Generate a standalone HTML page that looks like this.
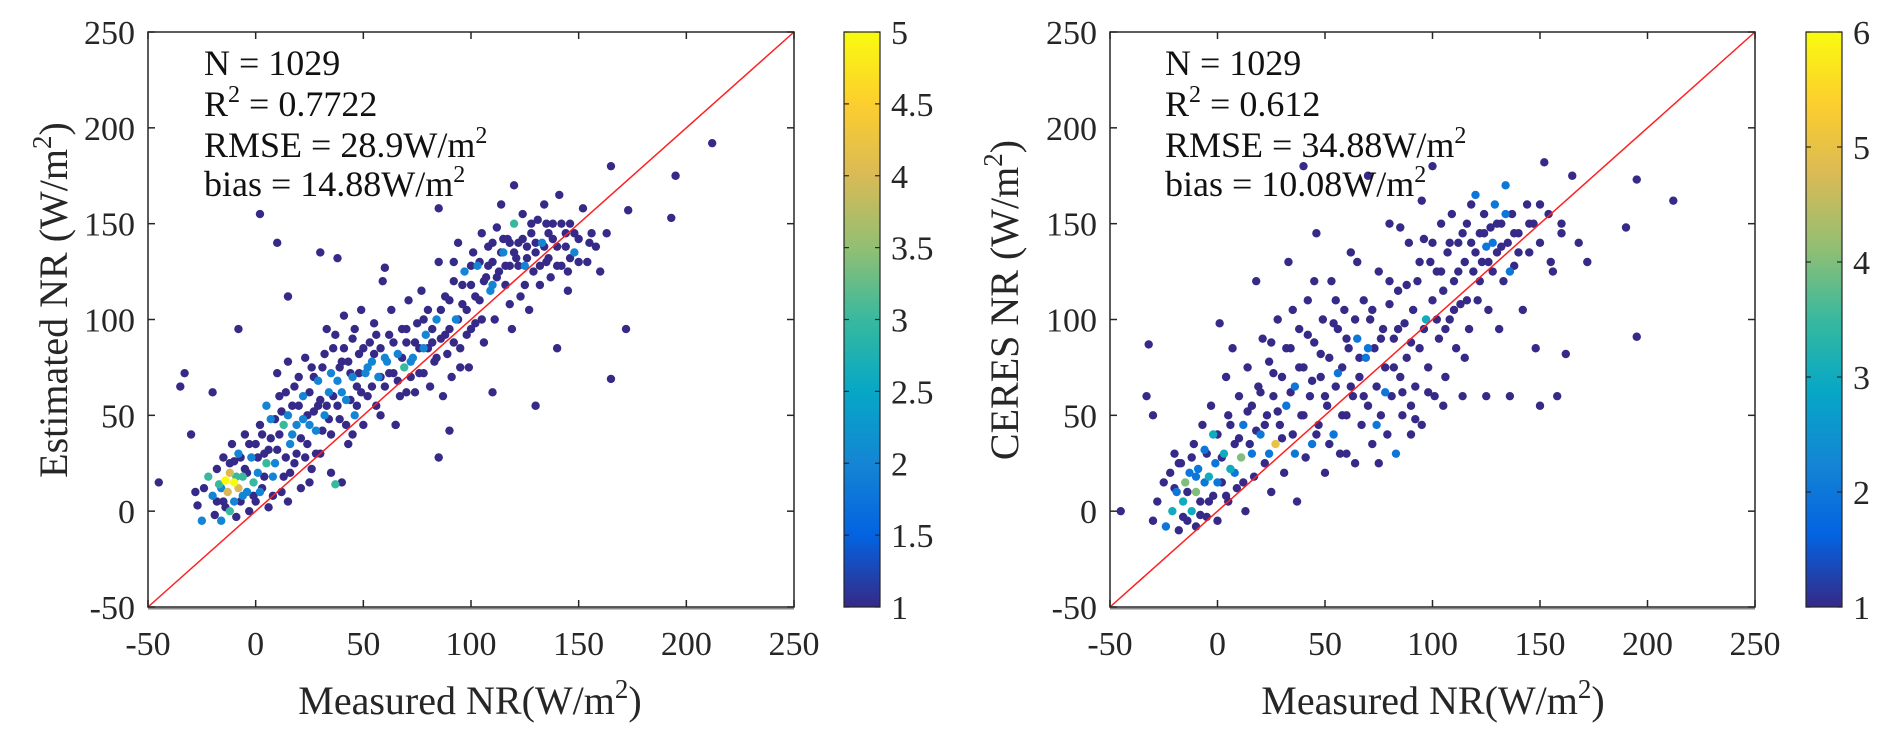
<!DOCTYPE html>
<html><head><meta charset="utf-8"><style>
html,body{margin:0;padding:0;background:#fff;}
svg{display:block;font-family:"Liberation Serif",serif;}
</style></head><body>
<svg id="fig" width="1892" height="747" viewBox="0 0 1892 747" font-family="Liberation Serif, serif">
<defs>
<linearGradient id="parula" x1="0" y1="1" x2="0" y2="0">
<stop offset="0" stop-color="#352A87"/><stop offset="0.125" stop-color="#0363E1"/><stop offset="0.25" stop-color="#1485D4"/><stop offset="0.375" stop-color="#06A7C6"/><stop offset="0.5" stop-color="#38B99E"/><stop offset="0.625" stop-color="#92BF73"/><stop offset="0.75" stop-color="#D9BA56"/><stop offset="0.875" stop-color="#FCCE2E"/><stop offset="1" stop-color="#F9FB0E"/>
</linearGradient>
</defs>
</svg>
<script>
// ---- data ----
const xTicks=[-50,0,50,100,150,200,250];
const yTicks=[-50,0,50,100,150,200,250];
const cbTicksL=[1,1.5,2,2.5,3,3.5,4,4.5,5];
const cbTicksR=[1,2,3,4,5,6];
const leftX=[-45,-35,-33,-30,-28,-27,-25,-24,-22,-20,-20,-19,-18,-17,-16,-15,-15,-14,-13,-12,-12,-11,-10,-10,-9,-8,-8,-7,-6,-5,-5,-4,-3,-2,-1,0,0,1,2,3,4,5,5,6,7,8,9,10,10,11,12,13,14,15,15,16,17,18,19,20,21,22,23,24,25,26,27,28,29,30,31,32,33,34,35,36,37,38,39,40,41,42,43,44,45,46,47,48,49,50,51,52,53,54,55,56,57,58,59,60,61,62,63,64,65,66,67,68,69,70,71,72,73,74,75,76,77,78,79,80,81,82,83,84,85,86,87,88,89,90,91,92,93,94,95,96,97,98,99,100,101,102,103,104,105,106,107,108,109,110,111,112,113,114,115,116,117,118,119,120,121,122,123,124,125,126,127,128,129,130,131,132,133,134,135,136,137,138,140,141,142,144,145,146,148,150,152,154,156,158,160,163,165,165,172,173,193,195,212,10,2,30,38,15,-8,60,85,120,130,140,110,85,40,65,90];
const leftY=[15,65,72,40,10,3,-5,12,18,8,62,-2,22,14,-5,5,28,16,10,20,0,35,15,26,-3,12,30,5,18,40,22,10,0,28,15,35,5,20,45,12,30,55,25,2,38,18,48,32,72,60,10,45,28,50,78,20,40,65,30,55,12,48,80,35,62,22,70,42,55,30,75,50,95,62,40,85,14,68,48,78,102,58,35,72,90,50,65,82,105,45,72,60,88,78,98,55,70,85,120,65,78,92,105,72,45,82,60,95,75,88,110,70,80,62,98,85,115,72,92,105,65,88,78,100,130,90,60,112,82,95,70,120,100,140,85,108,125,92,75,118,135,98,128,110,145,88,122,138,115,130,100,148,125,160,135,118,142,128,95,150,132,140,112,155,128,138,105,145,125,135,152,118,140,160,130,145,122,150,138,165,128,145,115,150,135,142,158,130,145,138,125,145,69,180,95,157,153,175,192,140,155,135,132,112,95,127,158,170,55,85,62,28,15,45,42];
const leftC=[1,1,1,1,1,1,2,1,3,2,1,1,1,3,2,1,1,5,4,4,3,1,5,1,1,4,2,1,3,1,1,2,1,2,3,1,1,2,1,1,1,2,3,1,1,2,1,1,1,1,1,3,1,2,1,1,2,1,1,1,1,2,1,1,1,1,1,2,1,1,1,2,1,2,1,1,3,2,1,1,1,2,1,1,1,2,1,1,1,1,2,1,1,2,1,1,2,1,1,1,2,1,1,1,1,2,1,1,3,1,1,1,2,1,1,1,1,1,2,1,1,1,1,2,1,1,1,1,1,1,1,1,2,1,1,1,2,1,1,1,1,1,2,1,1,1,1,1,2,1,1,1,1,1,2,1,1,1,1,3,1,1,1,1,2,1,1,1,1,1,1,1,2,1,1,1,1,1,1,1,1,1,1,1,2,1,1,1,1,1,1,1,1,1,1,1,1,1,1,1,1,1,1,1,1,1,1,1,1,1,1,1,1,1,1];
const leftX2=[-18,-16,-14,-12,-10,-9,-7,-6,-4,-3,-1,1,2,3,4,6,7,8,9,11,12,13,14,16,17,18,19,20,21,22,23,24,25,26,27,28,29,30,31,32,33,34,35,36,37,38,39,40,41,42,43,44,45,46,47,48,49,50,52,54,55,56,58,60,62,64,66,68,70,72,74,76,78,80,82,84,86,88,90,92,94,96,98,100,102,104,106,108,110,112,114,116,118,120,122,124,126,128,130,132,134,136,138,140,142,144,146,148,150,155,110,115,125,135,145,100,95,105,118,92,78,70,58,45,35,25,15];
const leftY2=[5,12,2,25,5,18,28,8,20,35,8,28,10,40,18,32,48,8,25,40,52,18,62,35,55,25,45,70,38,60,28,50,45,75,52,30,68,58,42,82,55,48,72,60,92,55,75,62,85,45,78,58,70,95,55,72,62,85,75,65,82,92,70,80,72,88,68,80,95,78,88,72,100,85,95,80,105,92,110,88,100,118,105,128,112,130,120,128,140,122,135,128,140,135,128,142,132,150,140,128,138,132,142,128,150,138,132,145,130,140,118,142,118,150,125,95,75,100,108,130,85,62,50,40,20,15,5];
const leftC2=[1,2,1,1,2,3,1,2,1,1,1,1,2,1,1,1,2,1,2,1,1,1,1,2,1,1,2,1,1,2,1,1,2,1,1,1,2,1,1,1,1,1,2,1,1,1,1,2,1,1,1,1,2,1,1,1,1,1,2,1,1,1,1,2,1,1,1,1,1,2,1,1,1,1,1,1,1,1,1,1,1,1,1,1,1,1,1,1,1,1,1,1,1,1,1,1,1,1,1,1,1,1,1,1,1,1,1,1,1,1,2,1,1,1,1,1,1,1,1,1,2,1,1,1,1,1,1];
const rightX=[-45,-32,-33,-30,-30,-28,-25,-24,-22,-21,-20,-19,-18,-17,-16,-15,-14,-13,-12,-11,-10,-10,-9,-8,-7,-6,-5,-5,-4,-3,-2,-1,0,0,1,2,3,4,5,5,6,7,8,9,10,11,12,13,14,15,16,17,18,19,20,21,22,23,24,25,26,27,28,29,30,31,32,33,34,35,36,37,38,39,40,41,42,43,44,45,46,47,48,49,50,51,52,53,54,55,56,57,58,59,60,61,62,63,64,65,66,67,68,69,70,71,72,73,74,75,76,77,78,79,80,81,82,83,84,85,86,87,88,89,90,91,92,93,94,95,96,97,98,99,100,101,102,103,104,105,106,107,108,109,110,111,112,113,114,115,116,117,118,119,120,121,122,123,124,125,126,127,128,129,130,131,132,133,134,135,136,137,138,140,142,144,145,147,148,150,152,154,156,158,160,162,165,168,172,190,195,195,212,100,70,40,150,125,80];
const rightY=[0,87,60,50,-5,5,15,-8,20,0,30,10,-10,25,5,15,-5,20,0,35,10,-8,22,5,45,15,-3,30,18,55,8,25,-5,40,98,15,30,70,5,50,22,85,35,12,60,28,45,0,75,35,55,18,120,65,40,90,25,50,78,10,60,35,100,45,70,20,55,130,85,40,65,5,95,50,75,28,110,60,35,88,145,45,70,100,20,55,80,120,40,65,95,30,75,105,50,85,135,60,25,90,70,45,110,80,55,100,35,85,65,125,50,95,75,40,108,60,90,30,115,70,50,98,80,140,55,105,65,120,85,45,142,100,75,130,110,60,125,90,150,115,70,135,100,155,120,85,140,108,60,130,150,95,140,125,165,110,145,130,155,138,105,148,125,160,135,95,150,120,170,140,60,155,128,145,105,160,135,150,85,140,182,155,125,60,145,82,175,140,130,148,173,91,162,180,175,180,55,60,150];
const rightC=[1,1,1,1,1,1,1,2,1,3,1,2,1,1,3,4,1,2,3,1,4,1,2,1,1,2,1,1,3,1,1,2,1,1,1,1,3,1,1,1,3,1,1,1,1,4,2,1,1,1,1,1,1,1,2,1,1,1,1,1,1,5,1,1,1,1,2,1,1,1,2,1,1,1,1,1,1,1,2,1,1,1,1,1,1,1,1,1,2,1,1,1,1,1,1,1,1,1,1,2,1,1,1,2,1,1,1,1,1,1,1,1,1,1,1,1,1,2,1,1,1,1,1,1,1,1,1,1,1,1,1,3,1,1,1,1,1,1,1,1,1,1,1,1,1,1,1,1,1,1,1,1,1,1,2,1,1,1,1,2,1,1,1,2,1,1,1,1,2,1,1,1,1,1,1,1,1,1,1,1,1,1,1,1,1,1,1,1,1,1,1,1,1,1,1,1,1,1,1,1,1,1,1];
const rightX2=[-20,-18,-16,-14,-12,-10,-8,-6,-4,-2,0,2,4,6,8,10,12,14,16,18,20,22,24,26,28,30,32,34,36,38,40,42,44,46,48,50,52,54,56,58,60,62,64,66,68,70,72,74,76,78,80,82,84,86,88,90,92,94,96,98,100,102,104,106,108,110,112,114,116,118,120,122,124,126,128,130,132,134,136,138,140,145,150,155,160,60,75,90,105,115,45,55,25,35,65,85,95];
const rightY2=[12,25,-3,10,28,18,-2,32,5,40,15,28,8,45,20,38,15,52,30,42,62,45,30,72,52,38,85,62,30,75,50,92,68,40,82,60,35,98,72,50,90,65,100,80,60,85,105,45,90,62,120,75,95,62,118,88,48,130,95,62,140,100,125,95,140,105,125,145,110,160,135,120,145,130,140,150,138,155,125,145,135,150,160,130,150,30,25,40,55,80,120,110,88,105,130,148,162];
const rightC2=[1,2,1,2,1,3,2,1,1,1,2,1,1,1,2,1,1,1,2,1,1,1,1,1,2,1,1,1,1,1,1,1,1,1,2,1,1,1,1,1,1,2,1,2,1,2,1,1,1,1,1,1,1,1,1,1,1,1,1,1,1,1,1,1,1,1,1,1,1,1,2,1,1,2,2,1,1,1,1,1,1,1,1,1,1,1,1,1,1,1,1,1,1,1,1,1,1];

const NS='http://www.w3.org/2000/svg';
const svg=document.getElementById('fig');
function mk(tag,attrs,parent){const e=document.createElementNS(NS,tag);for(const k in attrs)e.setAttribute(k,attrs[k]);(parent||svg).appendChild(e);return e;}
const stops=[[53,42,135],[3,99,225],[20,133,212],[6,167,198],[56,185,158],[146,191,115],[217,186,86],[252,206,46],[249,251,14]];
function parula(t){t=Math.max(0,Math.min(1,t));const f=t*8,i=Math.min(7,Math.floor(f)),r=f-i;const a=stops[i],b=stops[i+1];return 'rgb('+a.map((v,k)=>Math.round(v+(b[k]-v)*r)).join(',')+')';}

function panel(o){
  const g=mk('g',{});
  
  
  const L=o.x0,R=o.x1,T=32,B=607;
  const sx=v=>L+(v+50)/300*(R-L);
  const sy=v=>B-(v+50)/300*(B-T);
  const pg=mk('g',{},g);
  
  
  const idx=o.X.map((_,i)=>i).sort((a,b)=>o.C[a]-o.C[b]);
  idx.forEach(i=>{
    const c=mk('circle',{cx:sx(o.X[i]),cy:sy(o.Y[i]),r:4.2,fill:parula((o.C[i]-1)/(o.cmax-1))},pg);
    
    
  });
  const ln=mk('line',{x1:sx(-50),y1:sy(-50),x2:sx(250),y2:sy(250),stroke:'#ff2020','stroke-width':1.5},g);
  
  
  const bx=mk('rect',{x:L,y:T,width:R-L,height:B-T,fill:'none',stroke:'#262626','stroke-width':1.5},g);
  
  
  mk('line',{x1:L,y1:B+1.5,x2:R,y2:B+1.5,stroke:'#888','stroke-width':2},g);
  xTicks.forEach(v=>{
    mk('line',{x1:sx(v),y1:B,x2:sx(v),y2:B-7,stroke:'#262626','stroke-width':1.5},g);
    mk('line',{x1:sx(v),y1:T,x2:sx(v),y2:T+7,stroke:'#262626','stroke-width':1.5},g);
    const t=mk('text',{x:sx(v),y:655,'text-anchor':'middle','font-size':34,fill:'#262626','font-family':'Liberation Serif, serif'},g);
    t.textContent=v;
    
    
  });
  yTicks.forEach(v=>{
    mk('line',{x1:L,y1:sy(v),x2:L+7,y2:sy(v),stroke:'#262626','stroke-width':1.5},g);
    mk('line',{x1:R,y1:sy(v),x2:R-7,y2:sy(v),stroke:'#262626','stroke-width':1.5},g);
    const t=mk('text',{x:L-13,y:sy(v)+12,'text-anchor':'end','font-size':34,fill:'#262626','font-family':'Liberation Serif, serif'},g);
    t.textContent=v;
    
    
  });
  const cb=mk('rect',{x:o.cb,y:T,width:36,height:B-T,fill:'url(#parula)',stroke:'#262626','stroke-width':1.2},g);
  
  
  o.cbt.forEach(v=>{
    const y=B-(v-1)/(o.cmax-1)*(B-T);
    mk('line',{x1:o.cb,y1:y,x2:o.cb+5,y2:y,stroke:'#262626','stroke-width':1.2},g);
    mk('line',{x1:o.cb+36,y1:y,x2:o.cb+31,y2:y,stroke:'#262626','stroke-width':1.2},g);
    const t=mk('text',{x:o.cb+47,y:y+12,'font-size':34,fill:'#262626','font-family':'Liberation Serif, serif'},g);
    t.textContent=v;
    
    
  });
  return g;
}
panel({name:'estimated-panel',x0:148,x1:794,cb:844,X:leftX.concat(leftX2),Y:leftY.concat(leftY2),C:leftC.concat(leftC2),cmax:5,cbt:cbTicksL});
panel({name:'ceres-panel',x0:1110,x1:1755,cb:1806,X:rightX.concat(rightX2),Y:rightY.concat(rightY2),C:rightC.concat(rightC2),cmax:6,cbt:cbTicksR});
</script>
<svg width="1892" height="747" style="position:absolute;left:0;top:0;" font-family="Liberation Serif, serif">
<g font-size="36" fill="#111">
<text x="204" y="75">N = 1029</text>
<text x="204" y="116">R<tspan dy="-14" font-size="24">2</tspan><tspan dy="14"> = 0.7722</tspan></text>
<text x="204" y="157">RMSE = 28.9W/m<tspan dy="-14" font-size="24">2</tspan></text>
<text x="204" y="196">bias = 14.88W/m<tspan dy="-14" font-size="24">2</tspan></text>
<text x="1165" y="75">N = 1029</text>
<text x="1165" y="116">R<tspan dy="-14" font-size="24">2</tspan><tspan dy="14"> = 0.612</tspan></text>
<text x="1165" y="157">RMSE = 34.88W/m<tspan dy="-14" font-size="24">2</tspan></text>
<text x="1165" y="196">bias = 10.08W/m<tspan dy="-14" font-size="24">2</tspan></text>
</g>
<g font-size="40" fill="#262626">
<text x="470" y="714" text-anchor="middle">Measured NR(W/m<tspan dy="-16" font-size="27">2</tspan><tspan dy="16">)</tspan></text>
<text x="1433" y="714" text-anchor="middle">Measured NR(W/m<tspan dy="-16" font-size="27">2</tspan><tspan dy="16">)</tspan></text>
<text transform="translate(67,300) rotate(-90)" text-anchor="middle">Estimated NR (W/m<tspan dy="-16" font-size="27">2</tspan><tspan dy="16">)</tspan></text>
<text transform="translate(1018,300) rotate(-90)" text-anchor="middle">CERES NR (W/m<tspan dy="-16" font-size="27">2</tspan><tspan dy="16">)</tspan></text>
</g>
</svg>
</body></html>
